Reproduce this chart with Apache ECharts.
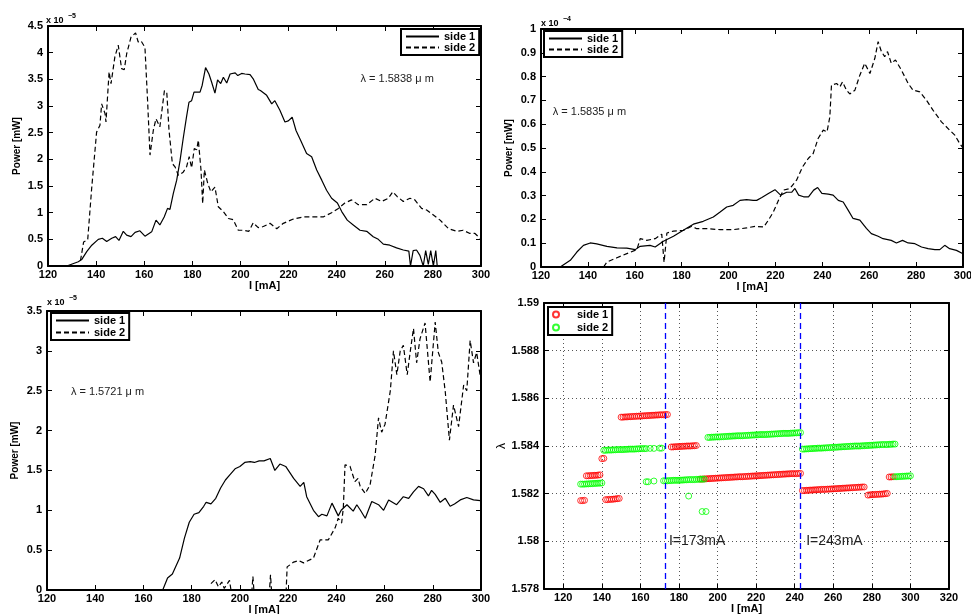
<!DOCTYPE html>
<html>
<head>
<meta charset="utf-8">
<title>Side power and wavelength vs current</title>
<script src="https://cdn.jsdelivr.net/npm/echarts@6.0.0/dist/echarts.min.js"></script>
<style>
  html, body { margin: 0; padding: 0; background: #fff; }
  #chart { width: 971px; height: 614px; }
</style>
</head>
<body>
<div id="chart"></div>
<script>
// panel 1 : lambda = 1.5838 um, power in 1e-5 mW
var p1Side1 = [[127.8,0],[132.6,0.08],[134,0.12],[136.1,0.27],[138.2,0.39],[140.9,0.5],[142.6,0.52],[144.4,0.46],[146.5,0.52],[148.1,0.55],[149.5,0.48],[151.3,0.65],[152.7,0.58],[154.5,0.55],[156.2,0.63],[158.2,0.66],[160.3,0.56],[163.1,0.64],[164.9,0.86],[166.5,0.77],[168.3,0.92],[169.7,1.08],[170.7,1.06],[172.1,1.36],[173.5,1.61],[174.9,1.98],[176.2,2.39],[177.6,2.8],[178.6,3.07],[179.7,3.1],[180.7,3.26],[183.2,3.26],[184.1,3.39],[185.5,3.72],[186.9,3.6],[188,3.45],[189.4,3.24],[190.5,3.49],[191.8,3.42],[192.9,3.54],[194.3,3.43],[195.7,3.6],[197.8,3.62],[198.9,3.57],[200.5,3.61],[201.9,3.6],[204,3.59],[205.3,3.51],[207.4,3.31],[208.3,3.29],[210.9,3.2],[213,3.04],[214.3,3.1],[216.4,2.92],[218.5,2.7],[219.9,2.72],[221.5,2.79],[223.1,2.54],[225,2.36],[227.5,2.11],[229.6,2.05],[231.7,1.8],[233.8,1.61],[235.8,1.42],[237.9,1.27],[240.3,1.18],[242.1,1.02],[244.4,0.86],[246.9,0.77],[249.7,0.67],[252.5,0.65],[255.2,0.55],[257.3,0.5],[259.4,0.41],[262.1,0.39],[264.9,0.34],[267.7,0.3],[270,0.28],[270.7,0],[271.8,0.29],[273.2,0.3],[274.6,0.2],[276,0],[277,0.29],[278.1,0.03],[279.1,0.29],[280.2,0],[281.2,0.29],[281.8,0]];
var p1Side2 = [[133.5,0.1],[134.8,0.45],[136.5,0.49],[138.2,1.48],[140.2,2.51],[141.6,2.64],[142.3,3.04],[143.7,2.86],[144.1,2.7],[145.4,3.64],[146.2,3.42],[147.8,3.92],[149.2,4.14],[150.6,3.7],[151.7,3.68],[152.7,3.98],[154.5,4.29],[156.4,4.37],[157.5,4.2],[158.7,4.22],[160.3,4.1],[161.4,3.1],[162.4,2.08],[163.8,2.55],[164.9,2.76],[166.5,2.61],[168.4,3.29],[169.4,3.24],[170.3,2.55],[171.7,1.92],[172.8,1.86],[174.2,1.7],[176.2,1.76],[177.6,1.86],[178.7,2.05],[179.7,1.84],[180.8,2.2],[181.8,2.18],[182.5,2.36],[183.6,1.8],[184.3,1.17],[185,1.8],[186.4,1.55],[187.7,1.39],[189.4,1.48],[190.8,1.11],[192.9,1.02],[195,0.89],[197,0.87],[199.1,0.67],[201.2,0.67],[203.5,0.65],[205.3,0.81],[207.4,0.72],[209.5,0.74],[212.3,0.8],[215.1,0.7],[217.8,0.8],[222,0.88],[226.1,0.92],[230.3,0.92],[234.4,0.92],[237.9,1.0],[240.7,1.08],[243.4,1.18],[246.2,1.24],[249,1.15],[252.5,1.15],[255.9,1.27],[258.7,1.21],[261.5,1.27],[263.3,1.39],[265.2,1.3],[267.7,1.21],[270.5,1.27],[272.5,1.24],[275.3,1.08],[277.4,1.05],[279.5,0.98],[283,0.86],[286.5,0.7],[289.9,0.65],[292.6,0.67],[295.4,0.61],[297.5,0.61],[299.6,0.52]];

// panel 2 : lambda = 1.5835 um, power in 1e-4 mW
var p2Side1 = [[128.2,0],[132.5,0.028],[135.3,0.063],[138.1,0.091],[141,0.101],[143.8,0.097],[148.1,0.087],[152.4,0.08],[156.6,0.079],[160.2,0.073],[162.3,0.087],[166.5,0.091],[168.7,0.084],[172.2,0.108],[176.5,0.129],[180.7,0.154],[185,0.18],[189.2,0.192],[193.5,0.21],[196.4,0.231],[199.2,0.252],[202,0.259],[204.9,0.28],[207.7,0.283],[210.5,0.28],[212,0.28],[214.2,0.292],[217,0.309],[219.8,0.325],[222.2,0.302],[224.8,0.314],[226.9,0.314],[228.3,0.33],[229.9,0.302],[232,0.295],[234.1,0.295],[236.3,0.323],[238,0.334],[239.8,0.309],[242.5,0.306],[244.6,0.302],[246.8,0.28],[248.9,0.273],[251,0.239],[253.1,0.204],[256,0.197],[258.8,0.162],[260.9,0.14],[263.8,0.129],[265.9,0.119],[269.4,0.112],[271.6,0.101],[274.2,0.112],[276.6,0.101],[279.5,0.098],[282.3,0.084],[285.1,0.077],[288,0.073],[290.1,0.073],[292.2,0.091],[294.3,0.077],[297.2,0.07],[300,0.056]];
var p2Side2 = [[146.7,0],[148.1,0.021],[152.4,0.039],[156.6,0.056],[160.9,0.073],[162.3,0.119],[165.1,0.112],[168.7,0.119],[171.5,0.138],[172.5,0.02],[173.7,0.143],[176.5,0.151],[180.7,0.154],[184.3,0.171],[186.4,0.161],[190.7,0.161],[196.4,0.157],[202,0.157],[207.7,0.164],[211.3,0.171],[215,0.168],[217,0.197],[219.1,0.231],[221.3,0.28],[223.4,0.323],[226.2,0.33],[229,0.365],[231.6,0.421],[234,0.456],[236.1,0.477],[238.2,0.54],[240.4,0.575],[242,0.568],[243.2,0.631],[243.9,0.764],[246.1,0.771],[247.5,0.757],[248.6,0.778],[250.3,0.743],[251.7,0.727],[253.9,0.743],[256,0.806],[258.1,0.856],[260.3,0.813],[262.4,0.877],[263.8,0.947],[265.2,0.905],[266.6,0.884],[267.8,0.905],[269.4,0.856],[271.2,0.87],[273.7,0.828],[276.6,0.771],[278.7,0.743],[281.6,0.736],[284.4,0.701],[287.2,0.659],[290.8,0.61],[294.3,0.575],[296.5,0.554],[298.6,0.519],[300,0.5]];

// panel 3 : lambda = 1.5721 um, power in 1e-5 mW
var p3Side1 = [[168,0],[170,0.15],[172,0.2],[175,0.4],[177,0.65],[179,0.85],[181,0.95],[183,0.97],[185,1.05],[186,1.1],[188,1.08],[190,1.15],[192,1.28],[194,1.38],[196,1.45],[198,1.52],[200,1.55],[202,1.6],[204.3,1.61],[206,1.6],[208,1.62],[210,1.62],[212.6,1.65],[214.5,1.5],[216.6,1.58],[219,1.55],[222.3,1.4],[225,1.3],[226.5,1.35],[227.7,1.17],[230.5,1.0],[232.6,0.92],[234,0.95],[236.1,0.93],[238.2,1.09],[240.8,0.93],[242,1.0],[244.4,1.07],[247,0.99],[248.5,1.07],[250,1.0],[252,0.9],[254.7,1.11],[257.5,1.07],[259.6,1.0],[261.7,1.13],[265,1.07],[267.8,1.17],[270,1.15],[272,1.23],[274.1,1.3],[276.2,1.27],[278.2,1.18],[279.5,1.25],[281,1.2],[283.1,1.1],[285.2,1.15],[287.2,1.05],[289,1.08],[291.4,1.13],[294.1,1.16],[296.9,1.13],[299.7,1.12],[300,1.12]];
var p3Side2 = [[188,0.08],[189.7,0.13],[191.1,0.04],[192.5,0.1],[193.5,0.02],[195.7,0.12],[196.3,0],[205,0],[205.4,0.17],[205.8,0],[212.3,0],[212.7,0.19],[213.1,0],[219.2,0],[219.6,0.29],[222.3,0.35],[224.4,0.37],[226.4,0.34],[230.5,0.4],[233.3,0.63],[236.7,0.63],[239.5,0.78],[240.8,0.9],[242.2,0.84],[242.9,1.03],[243.6,1.57],[245.7,1.55],[247.7,1.36],[249,1.4],[249.9,1.3],[252,1.21],[254,1.32],[256.1,1.69],[257.5,2.16],[258.8,1.98],[260.2,2.08],[262.4,2.5],[263.7,3.0],[265.1,2.7],[266.5,3.0],[267.8,3.07],[269.4,2.7],[270.6,2.98],[272,3.28],[273.3,2.85],[274.7,3.15],[276.8,3.35],[278.9,2.61],[281,3.36],[282.3,2.98],[283.7,2.86],[285.2,2.48],[286.9,1.88],[288.6,2.32],[290.7,2.05],[292.8,2.57],[294.1,2.5],[295.5,3.13],[296.9,2.85],[298.2,2.98],[299.6,2.7]];

// panel 4 : peak wavelength [um] vs current [mA]
var lambdaSide1 = [[129,1.58171],[130,1.58171],[131,1.58172],
  [132,1.58275],[133,1.58275],[134,1.58276],[135,1.58276],[136,1.58277],[137,1.58277],[138,1.58278],[139,1.58279],
  [140,1.58347],[141,1.58348],
  [142,1.58175],[143,1.58175],[144,1.58176],[145,1.58176],[146,1.58177],[147,1.58178],[148,1.58179],[149,1.5818],
  [150,1.58521],[151,1.58521],[152,1.58522],[153,1.58522],[154,1.58523],[155,1.58523],[156,1.58524],[157,1.58524],[158,1.58525],[159,1.58525],[160,1.58526],[161,1.58526],[162,1.58527],[163,1.58527],[164,1.58528],[165,1.58528],[166,1.58529],[167,1.58529],[168,1.5853],[169,1.5853],[170,1.58531],[171,1.58531],[172,1.58531],[173,1.58532],[174,1.58532],
  [176,1.58396],[177,1.58396],[178,1.58397],[179,1.58397],[180,1.58398],[181,1.58398],[182,1.58399],[183,1.58399],[184,1.584],[185,1.584],[186,1.584],[187,1.58401],[188,1.58401],[189,1.58402],
  [191,1.58261],[192,1.58261],[193,1.58262],[194,1.58262],[195,1.58263],[196,1.58263],[197,1.58264],[198,1.58264],[199,1.58265],[200,1.58265],[201,1.58266],[202,1.58266],[203,1.58267],[204,1.58267],[205,1.58268],[206,1.58268],[207,1.58269],[208,1.58269],[209,1.5827],[210,1.5827],[211,1.58271],[212,1.58271],[213,1.58271],[214,1.58272],[215,1.58272],[216,1.58273],[217,1.58273],[218,1.58274],[219,1.58274],[220,1.58275],[221,1.58275],[222,1.58276],[223,1.58276],[224,1.58277],[225,1.58277],[226,1.58278],[227,1.58278],[228,1.58279],[229,1.58279],[230,1.5828],[231,1.5828],[232,1.58281],[233,1.58281],[234,1.58282],[235,1.58282],[236,1.58283],[237,1.58283],[238,1.58284],[239,1.58284],[240,1.58284],[241,1.58284],[242,1.58285],[243,1.58285],
  [244,1.58213],[245,1.58213],[246,1.58214],[247,1.58214],[248,1.58215],[249,1.58215],[250,1.58216],[251,1.58216],[252,1.58217],[253,1.58217],[254,1.58218],[255,1.58218],[256,1.58218],[257,1.58219],[258,1.58219],[259,1.5822],[260,1.5822],[261,1.58221],[262,1.58221],[263,1.58222],[264,1.58222],[265,1.58223],[266,1.58223],[267,1.58224],[268,1.58224],[269,1.58225],[270,1.58225],[271,1.58226],[272,1.58226],[273,1.58227],[274,1.58227],[275,1.58228],[276,1.58228],
  [278,1.58194],[279,1.58195],[280,1.58196],[281,1.58196],[282,1.58197],[283,1.58197],[284,1.58198],[285,1.58198],[286,1.58199],[287,1.582],[288,1.58201],
  [289,1.5827],[290,1.5827],[291,1.58271]];
var lambdaSide2 = [[129,1.5824],[130,1.5824],[131,1.5824],[132,1.58241],[133,1.58241],[134,1.58242],[135,1.58242],[136,1.58243],[137,1.58243],[138,1.58244],[139,1.58244],[140,1.58245],
  [141,1.58382],[142,1.58382],[143,1.58383],[144,1.58383],[145,1.58383],[146,1.58384],[147,1.58384],[148,1.58385],[149,1.58385],[150,1.58385],[151,1.58385],[152,1.58386],[153,1.58386],[154,1.58387],[155,1.58387],[156,1.58387],[157,1.58387],[158,1.58388],[159,1.58388],[160,1.58389],[161,1.58389],[162,1.58389],[163,1.58389],
  [165,1.5839],[167,1.5839],[170,1.58391],[171,1.58391],
  [163,1.5825],[164,1.5825],[167,1.58253],
  [172,1.58254],[173,1.58254],[174,1.58254],[175,1.58255],[176,1.58255],[177,1.58256],[178,1.58256],[179,1.58256],[180,1.58256],[181,1.58257],[182,1.58257],[183,1.58258],[184,1.58258],[185,1.58259],[186,1.58259],[187,1.58259],[188,1.58259],[189,1.5826],[190,1.5826],[191,1.58261],[192,1.58261],[193,1.58261],
  [185,1.5819],
  [192,1.58125],[194,1.58125],
  [195,1.58436],[196,1.58436],[197,1.58437],[198,1.58437],[199,1.58438],[200,1.58438],[201,1.58438],[202,1.58439],[203,1.58439],[204,1.5844],[205,1.5844],[206,1.58441],[207,1.58441],[208,1.58442],[209,1.58442],[210,1.58443],[211,1.58443],[212,1.58443],[213,1.58443],[214,1.58444],[215,1.58444],[216,1.58445],[217,1.58445],[218,1.58446],[219,1.58446],[220,1.58447],[221,1.58447],[222,1.58448],[223,1.58448],[224,1.58448],[225,1.58448],[226,1.58449],[227,1.58449],[228,1.5845],[229,1.5845],[230,1.58451],[231,1.58451],[232,1.58452],[233,1.58452],[234,1.58453],[235,1.58453],[236,1.58453],[237,1.58453],[238,1.58454],[239,1.58454],[240,1.58455],[241,1.58455],[242,1.58456],[243,1.58456],
  [244,1.58387],[245,1.58387],[246,1.58388],[247,1.58388],[248,1.58389],[249,1.58389],[250,1.5839],[251,1.5839],[252,1.58391],[253,1.58391],[254,1.58391],[255,1.58392],[256,1.58392],[257,1.58393],[258,1.58393],[259,1.58394],[260,1.58394],[261,1.58395],[262,1.58395],[263,1.58396],[264,1.58396],[265,1.58397],[266,1.58397],[267,1.58398],[268,1.58398],[269,1.58399],[270,1.58399],[271,1.584],[272,1.584],[273,1.584],[274,1.584],[275,1.58401],[276,1.58401],[277,1.58402],[278,1.58402],[279,1.58403],[280,1.58403],[281,1.58404],[282,1.58404],[283,1.58405],[284,1.58405],[285,1.58406],[286,1.58406],[287,1.58406],[288,1.58406],[289,1.58407],[290,1.58407],[291,1.58408],[292,1.58408],
  [292,1.58271],[293,1.58271],[294,1.58272],[295,1.58272],[296,1.58273],[297,1.58273],[298,1.58274],[299,1.58274],[300,1.58275]];
var switchCurrents = [173, 243];

var lambdaXTicks = [120, 140, 160, 180, 200, 220, 240, 260, 280, 300, 320];

var FONT = '"Liberation Sans", Arial, Helvetica, sans-serif';
var NARROW = '"Liberation Sans Narrow", "Liberation Sans", Arial, sans-serif';

var dom = document.getElementById('chart');
var myChart = echarts.init(dom, null, { renderer: 'canvas' });

var tickFont = { color: '#000', fontFamily: FONT, fontWeight: 'bold', fontSize: 11 };
var nameFont = { color: '#000', fontFamily: FONT, fontWeight: 'bold', fontSize: 11 };
var yNameFont = { color: '#000', fontFamily: NARROW, fontWeight: 'bold', fontSize: 10 };

function boxLine() {
    return { show: true, onZero: false, lineStyle: { color: '#000', width: 2 } };
}
function tickIn() {
    return { show: true, inside: true, length: 5, lineStyle: { color: '#000', width: 1 } };
}

// bottom + top x axes for one grid
function xPair(gi, min, max, interval, nameGap, extra) {
    var bottom = {
        type: 'value', gridIndex: gi, position: 'bottom',
        min: min, max: max, interval: interval,
        name: 'I [mA]', nameLocation: 'middle', nameGap: nameGap, nameTextStyle: nameFont,
        axisLine: boxLine(), axisTick: tickIn(),
        axisLabel: Object.assign({ margin: 3, showMinLabel: true, showMaxLabel: true }, tickFont),
        splitLine: { show: false }
    };
    var top = {
        type: 'value', gridIndex: gi, position: 'top',
        min: min, max: max, interval: interval,
        axisLine: boxLine(), axisTick: tickIn(),
        axisLabel: { show: false }, splitLine: { show: false }
    };
    if (extra) {
        extra(bottom);
        extra(top);
    }
    return [bottom, top];
}
// left + right y axes for one grid
function yPair(gi, min, max, interval, name, nameGap, font, extra) {
    var left = {
        type: 'value', gridIndex: gi, position: 'left',
        min: min, max: max, interval: interval,
        name: name, nameLocation: 'middle', nameGap: nameGap, nameTextStyle: font,
        axisLine: boxLine(), axisTick: tickIn(),
        axisLabel: Object.assign({ margin: 5, showMinLabel: true, showMaxLabel: true }, tickFont),
        splitLine: { show: false }
    };
    var right = {
        type: 'value', gridIndex: gi, position: 'right',
        min: min, max: max, interval: interval,
        axisLine: boxLine(), axisTick: tickIn(),
        axisLabel: { show: false }, splitLine: { show: false }
    };
    if (extra) extra(left);
    return [left, right];
}

var dotted = { show: true, lineStyle: { color: '#555', type: [1, 3], width: 1 } };

var xAxes = [].concat(
    xPair(0, 120, 300, 20, 11),
    xPair(1, 120, 300, 20, 11),
    xPair(2, 120, 300, 20, 13),
    xPair(3, 110, 320, 10, 13, function (ax) {
        ax.axisTick.customValues = lambdaXTicks;
        if (ax.axisLabel.show !== false) {
            ax.axisLabel.customValues = lambdaXTicks;
            ax.splitLine = dotted;
        }
    })
);
var yAxes = [].concat(
    yPair(0, 0, 4.5, 0.5, 'Power [mW]', 26, yNameFont),
    yPair(1, 0, 1, 0.1, 'Power [mW]', 27, yNameFont),
    yPair(2, 0, 3.5, 0.5, 'Power [mW]', 27, yNameFont),
    yPair(3, 1.578, 1.59, 0.002, 'λ', 36, { color: '#000', fontFamily: FONT, fontSize: 12 }, function (ax) {
        ax.splitLine = dotted;
    })
);

function curve(name, gi, data, dashed) {
    return {
        name: name, type: 'line', xAxisIndex: gi * 2, yAxisIndex: gi * 2,
        data: data, symbol: 'none', smooth: false,
        lineStyle: { color: '#000', width: 1.2, type: dashed ? [5, 3] : 'solid' },
        itemStyle: { color: '#000' },
        animation: false, z: 3
    };
}
function note(coord, text, size) {
    return {
        symbol: 'circle', symbolSize: 1, silent: true,
        itemStyle: { color: 'rgba(0,0,0,0)' },
        label: {
            show: true, position: 'right', distance: 0,
            color: '#222', fontFamily: FONT, fontSize: size,
            formatter: text
        },
        data: [{ coord: coord }]
    };
}

var s1 = curve('side 1', 0, p1Side1, false);
s1.markPoint = note([249.7, 3.5], 'λ = 1.5838 μ m', 11);
var s3 = curve('side 1', 1, p2Side1, false);
s3.markPoint = note([124.8, 0.651], 'λ = 1.5835 μ m', 11);
var s5 = curve('side 1', 2, p3Side1, false);
s5.markPoint = note([129.7, 2.49], 'λ = 1.5721 μ m', 11);

var scatter1 = {
    name: 'side 1 (λ)', type: 'scatter', xAxisIndex: 6, yAxisIndex: 6,
    data: lambdaSide1, symbol: 'circle', symbolSize: 6,
    itemStyle: { color: 'rgba(255,0,0,0)', borderColor: '#ff0000', borderWidth: 1 },
    animation: false, z: 3,
    markLine: {
        silent: true, symbol: ['none', 'none'], animation: false,
        label: { show: false },
        lineStyle: { color: '#0000ff', type: [6, 4], width: 1.3 },
        data: switchCurrents.map(function (c) { return { xAxis: c }; })
    },
    markPoint: {
        symbol: 'circle', symbolSize: 1, silent: true,
        itemStyle: { color: 'rgba(0,0,0,0)' },
        label: { show: true, position: 'right', distance: 0, color: '#222', fontFamily: FONT, fontSize: 14,
            formatter: function (p) { return 'I=' + p.data.name + 'mA'; } },
        data: [{ coord: [174.5, 1.58], name: '173' }, { coord: [245.7, 1.58], name: '243' }]
    }
};
var scatter2 = {
    name: 'side 2 (λ)', type: 'scatter', xAxisIndex: 6, yAxisIndex: 6,
    data: lambdaSide2, symbol: 'circle', symbolSize: 6,
    itemStyle: { color: 'rgba(0,255,0,0)', borderColor: '#00ff00', borderWidth: 1 },
    animation: false, z: 3
};

function legendAt(left, top, names, gap, extra) {
    return Object.assign({
        left: left, top: top, orient: 'vertical',
        data: names, itemWidth: 33, itemHeight: 8, itemGap: gap,
        padding: [2, 4, 2, 4],
        borderColor: '#000', borderWidth: 2, backgroundColor: '#fff', borderRadius: 0,
        itemStyle: { opacity: 0 },
        textStyle: { fontFamily: FONT, fontWeight: 'bold', fontSize: 11, color: '#000', lineHeight: 11 },
        selectedMode: false, z: 10
    }, extra || {});
}

function expLabel(left, top, exp) {
    return [
        { type: 'text', left: left, top: top + 3,
          style: { text: 'x 10', fill: '#000', font: 'bold 9px ' + FONT } },
        { type: 'text', left: left + 22, top: top,
          style: { text: exp, fill: '#000', font: 'bold 7px ' + FONT } }
    ];
}

var option = {
    backgroundColor: '#fff',
    animation: false,
    grid: [
        { left: 48, top: 26, width: 433, height: 240, outerBoundsMode: 'none' },
        { left: 541, top: 29, width: 422, height: 238, outerBoundsMode: 'none' },
        { left: 47, top: 311, width: 434, height: 279, outerBoundsMode: 'none' },
        { left: 544, top: 303, width: 405, height: 286, outerBoundsMode: 'none' }
    ],
    xAxis: xAxes,
    yAxis: yAxes,
    legend: [
        legendAt(401, 29, ['side 1', 'side 2'], 0),
        legendAt(544, 31, ['side 1', 'side 2'], 0),
        legendAt(51, 313, ['side 1', 'side 2'], 1),
        legendAt(548, 307, ['side 1 (λ)', 'side 2 (λ)'], 2, {
            itemWidth: 32, itemHeight: 6,
            itemStyle: {},
            formatter: function (name) { return name.replace(' (λ)', ''); }
        })
    ],
    graphic: [].concat(
        expLabel(46, 13, '−5'),
        expLabel(541, 16, '−4'),
        expLabel(47, 295, '−5')
    ),
    series: [
        s1, curve('side 2', 0, p1Side2, true),
        s3, curve('side 2', 1, p2Side2, true),
        s5, curve('side 2', 2, p3Side2, true),
        scatter1, scatter2
    ]
};
myChart.setOption(option);
window.addEventListener('resize', myChart.resize);
</script>
</body>
</html>
